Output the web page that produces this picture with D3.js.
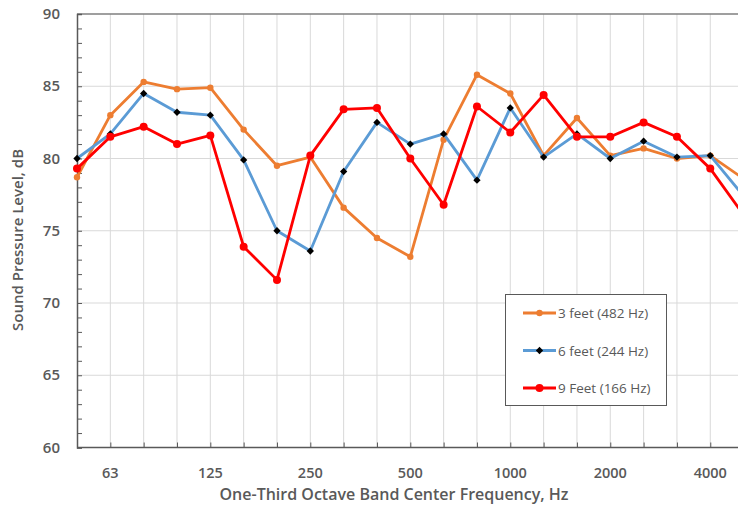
<!DOCTYPE html>
<html>
<head>
<meta charset="utf-8">
<script src="https://cdn.jsdelivr.net/npm/d3@7"></script>
<style>
  body { margin: 0; background: #fff; }
  text { font-family: "Open Sans", sans-serif; }
</style>
</head>
<body>
<script>
  // one-third octave bands, Hz
  var bands = ["50","63","80","100","125","160","200","250","315","400","500","630","800","1000","1250","1600","2000","2500","3150","4000","5000"];
  var tickLabels = ["63","125","250","500","1000","2000","4000"];
  var yTicks = [60, 65, 70, 75, 80, 85, 90];

  var feet3 = [78.7, 83.0, 85.3, 84.8, 84.9, 82.0, 79.5, 80.1, 76.6, 74.5, 73.2, 81.3, 85.8, 84.5, 80.2, 82.8, 80.2, 80.7, 80.0, 80.2, 78.6];
  var feet6 = [80.0, 81.7, 84.5, 83.2, 83.0, 79.9, 75.0, 73.6, 79.1, 82.5, 81.0, 81.7, 78.5, 83.5, 80.1, 81.7, 80.0, 81.2, 80.1, 80.2, 77.4];
  var feet9 = [79.3, 81.5, 82.2, 81.0, 81.6, 73.9, 71.6, 80.2, 83.4, 83.5, 80.0, 76.8, 83.6, 81.8, 84.4, 81.5, 81.5, 82.5, 81.5, 79.3, 76.1];

  var seriesNames = ["3 feet (482 Hz)", "6 feet (244 Hz)", "9 Feet (166 Hz)"];

  var series = [
    {name: seriesNames[0], values: feet3, color: "#ED7D31", marker: "circle", mcolor: "#ED7D31", r: 3.2},
    {name: seriesNames[1], values: feet6, color: "#5B9BD5", marker: "diamond", mcolor: "#000", r: 3.6},
    {name: seriesNames[2], values: feet9, color: "#FF0000", marker: "circle", mcolor: "#FF0000", r: 4}
  ];

  var W = 738, H = 512;
  var plotL = 77, plotT = 14, plotB = 447.5;

  var svg = d3.select("body").append("svg")
            .attr("width", W)
            .attr("height", H)

  var x = d3.scalePoint().domain(bands).range([plotL, 743.6]);
  var y = d3.scaleLinear().domain([60, 90]).range([plotB, plotT]);

  // grid
  svg.append("g").selectAll("line.vg")
    .data(bands.slice(1))
    .enter().append("line")
    .attr("x1", function(d){ return x(d) }).attr("x2", function(d){ return x(d) })
    .attr("y1", plotT).attr("y2", plotB)
    .attr("stroke", "#d9d9d9").attr("stroke-width", 1)

  svg.append("g").selectAll("line.hg")
    .data(yTicks.slice(1, -1))
    .enter().append("line")
    .attr("x1", plotL).attr("x2", W)
    .attr("y1", function(d){ return y(d) }).attr("y2", function(d){ return y(d) })
    .attr("stroke", "#d9d9d9").attr("stroke-width", 1)

  // top border
  svg.append("line")
    .attr("x1", plotL).attr("x2", W).attr("y1", plotT).attr("y2", plotT)
    .attr("stroke", "#7f7f7f").attr("stroke-width", 1.5)

  // y axis with minor ticks inside
  var yAxis = d3.axisRight(y).ticks(30).tickSize(5).tickFormat("");
  var gy = svg.append("g").attr("transform", "translate(" + plotL + ",0)").call(yAxis);
  gy.select(".domain").attr("stroke", "#595959").attr("stroke-width", 1.5);
  gy.selectAll(".tick line").attr("stroke", "#595959");

  svg.append("g").selectAll("text")
    .data(yTicks)
    .enter().append("text")
    .attr("x", 60).attr("y", function(d){ return y(d) + 5 })
    .attr("text-anchor", "end")
    .attr("font-size", 15).attr("font-weight", 600).attr("fill", "#595959")
    .text(function(d){ return d })

  // x axis, ticks pointing up
  var xAxis = d3.axisTop(x).tickSize(5).tickFormat("");
  var gx = svg.append("g").attr("transform", "translate(0," + plotB + ")").call(xAxis);
  gx.select(".domain").remove();
  gx.append("line").attr("x1", plotL).attr("x2", W).attr("stroke", "#595959").attr("stroke-width", 1.5);
  gx.selectAll(".tick line").attr("stroke", "#595959");

  svg.append("g").selectAll("text")
    .data(tickLabels)
    .enter().append("text")
    .attr("x", function(d){ return x(d) }).attr("y", 478)
    .attr("text-anchor", "middle")
    .attr("font-size", 14.5).attr("font-weight", 600).attr("fill", "#595959")
    .text(function(d){ return d })

  svg.append("text")
    .attr("x", 394).attr("y", 500)
    .attr("text-anchor", "middle")
    .attr("font-size", 16).attr("font-weight", 600).attr("fill", "#595959")
    .text("One-Third Octave Band Center Frequency, Hz")

  svg.append("text")
    .attr("transform", "translate(23,240) rotate(-90)")
    .attr("text-anchor", "middle")
    .attr("font-size", 15).attr("font-weight", 600).attr("fill", "#595959")
    .text("Sound Pressure Level, dB")

  var line = d3.line()
    .x(function(d, i){ return x(bands[i]) })
    .y(function(d){ return y(d) });

  var diamond = d3.symbol().type(d3.symbolDiamond2).size(34);

  function drawMarker(g, s, cx, cy) {
    if (s.marker == "diamond") {
      g.append("path").attr("d", diamond()).attr("transform", "translate(" + cx + "," + cy + ")").attr("fill", s.mcolor)
    } else {
      g.append("circle").attr("cx", cx).attr("cy", cy).attr("r", s.r).attr("fill", s.mcolor)
    }
  }

  series.forEach(function(s){
    var g = svg.append("g");
    g.append("path")
      .attr("d", line(s.values))
      .attr("fill", "none")
      .attr("stroke", s.color)
      .attr("stroke-width", 2.8)
      .attr("stroke-linejoin", "round")
    s.values.forEach(function(v, i){ drawMarker(g, s, x(bands[i]), y(v)) })
  })

  // legend
  var lg = svg.append("g");
  lg.append("rect")
    .attr("x", 505.5).attr("y", 294.5).attr("width", 161).attr("height", 111)
    .attr("fill", "#fff").attr("stroke", "#595959").attr("stroke-width", 1)
  series.forEach(function(s, i){
    var ly = 313 + i * 37.5;
    lg.append("line").attr("x1", 523).attr("x2", 556).attr("y1", ly).attr("y2", ly)
      .attr("stroke", s.color).attr("stroke-width", 2.8)
    drawMarker(lg, s, 539.5, ly)
    lg.append("text").attr("x", 558).attr("y", ly + 5)
      .attr("font-size", 13.5).attr("fill", "#595959")
      .text(s.name)
  })
</script>
</body>
</html>
